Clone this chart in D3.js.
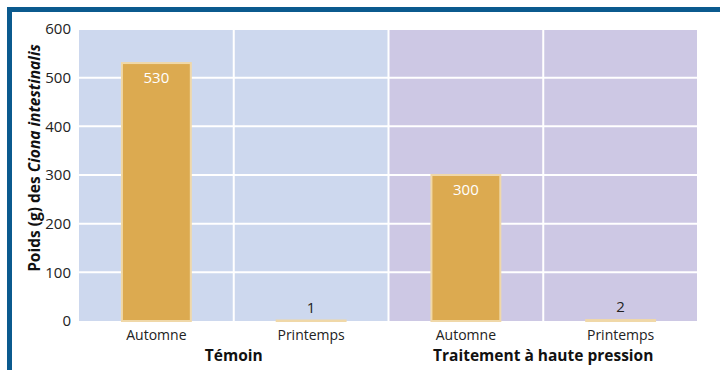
<!DOCTYPE html>
<html>
<head>
<meta charset="utf-8">
<script src="https://cdn.jsdelivr.net/npm/d3@7"></script>
<style>
    body { margin: 0; background: #fff; }
    svg { display: block; font-family: "Open Sans", "Noto Sans", sans-serif; }
</style>
</head>
<body>
<svg id="chart" width="720" height="370"></svg>
<script>
var groups = ["Témoin", "Traitement à haute pression"];
var seasons = ["Automne", "Printemps"];
var temoin = [530, 1];
var haute = [300, 2];
var yTicks = [0, 100, 200, 300, 400, 500, 600];
var groupColors = ["#cdd8ee", "#cdc8e4"];

barChart();

function barChart() {

    var svg = d3.select("#chart"),
        margin = {top: 29, right: 22, bottom: 49, left: 79},
        width = +svg.attr("width") - margin.left - margin.right,
        height = +svg.attr("height") - margin.top - margin.bottom;

    var data = [];
    groups.forEach(function (gName, i) {
        var vals = i === 0 ? temoin : haute;
        seasons.forEach(function (s, j) {
            data.push({group: gName, season: s, value: vals[j]});
        });
    });

    var x0 = d3.scaleBand().domain(groups).range([0, width]).padding(0);
    var x1 = d3.scaleBand().domain(seasons).range([0, x0.bandwidth()])
        .paddingInner(0.555).paddingOuter(0.2775);
    var y = d3.scaleLinear().domain([0, 600]).range([height, 0]);

    // frame
    svg.append("rect").attr("x", 7).attr("y", 7).attr("width", 713).attr("height", 5).attr("fill", "#0b5a8e");
    svg.append("rect").attr("x", 7).attr("y", 7).attr("width", 5).attr("height", 363).attr("fill", "#0b5a8e");

    var g = svg.append("g")
        .attr("transform", "translate(" + margin.left + "," + margin.top + ")");

    // group backgrounds
    g.selectAll(".bg")
        .data(groups)
        .enter().append("rect")
        .attr("class", "bg")
        .attr("x", function (d) { return x0(d); })
        .attr("y", 0)
        .attr("width", x0.bandwidth())
        .attr("height", height)
        .attr("fill", function (d, i) { return groupColors[i]; });

    // horizontal grid
    g.selectAll(".hgrid")
        .data(yTicks.filter(function (t) { return t > 0; }))
        .enter().append("line")
        .attr("x1", 0).attr("x2", width)
        .attr("y1", function (d) { return y(d); })
        .attr("y2", function (d) { return y(d); })
        .attr("stroke", "#fff").attr("stroke-width", 2);

    // vertical grid between bands
    var cuts = [];
    groups.forEach(function (gName, i) {
        if (i > 0) cuts.push(x0(gName));
        cuts.push(x0(gName) + x0.bandwidth() / 2);
    });
    cuts.push(width);
    g.selectAll(".vgrid")
        .data(cuts)
        .enter().append("line")
        .attr("x1", function (d) { return d; })
        .attr("x2", function (d) { return d; })
        .attr("y1", 0).attr("y2", height)
        .attr("stroke", "#fff").attr("stroke-width", 2);

    // y tick labels
    g.append("g")
        .attr("class", "axis axis--y")
        .attr("transform", "translate(-8,0)")
        .call(d3.axisLeft(y).tickValues(yTicks).tickSize(0).tickPadding(0))
        .call(function (a) { a.select(".domain").remove(); })
        .selectAll("text")
        .attr("font-size", 15)
        .attr("font-family", "Open Sans, sans-serif")
        .attr("fill", "#222");

    // bars
    g.selectAll(".bar")
        .data(data)
        .enter().append("rect")
        .attr("class", "bar")
        .attr("x", function (d) { return x0(d.group) + x1(d.season); })
        .attr("y", function (d) { return y(d.value); })
        .attr("width", x1.bandwidth())
        .attr("height", function (d) { return height - y(d.value); })
        .attr("fill", "#dcaa50")
        .attr("stroke", "#f0d8a8")
        .attr("stroke-width", 2);

    // value labels
    g.selectAll(".val")
        .data(data)
        .enter().append("text")
        .attr("x", function (d) { return x0(d.group) + x1(d.season) + x1.bandwidth() / 2; })
        .attr("y", function (d) { return d.value > 50 ? y(d.value) + 20 : y(d.value) - 8; })
        .attr("text-anchor", "middle")
        .attr("font-size", 15)
        .attr("fill", function (d) { return d.value > 50 ? "#fff" : "#222"; })
        .text(function (d) { return d.value; });

    // category labels
    g.selectAll(".cat")
        .data(data)
        .enter().append("text")
        .attr("x", function (d) { return x0(d.group) + x1(d.season) + x1.bandwidth() / 2; })
        .attr("y", height + 19)
        .attr("text-anchor", "middle")
        .attr("font-size", 14)
        .attr("fill", "#222")
        .text(function (d) { return d.season; });

    // group labels
    g.selectAll(".grp")
        .data(groups)
        .enter().append("text")
        .attr("x", function (d) { return x0(d) + x0.bandwidth() / 2; })
        .attr("y", height + 40)
        .attr("text-anchor", "middle")
        .attr("font-size", 15.5)
        .attr("font-weight", "bold")
        .attr("fill", "#111")
        .text(function (d) { return d; });

    // y axis title
    var title = svg.append("text")
        .attr("transform", "translate(40," + (margin.top + 129) + ") rotate(-90)")
        .attr("text-anchor", "middle")
        .attr("font-size", 15.5)
        .attr("font-weight", "bold")
        .attr("fill", "#111");
    title.append("tspan").text("Poids (g) des ");
    title.append("tspan").attr("font-style", "italic").text("Ciona intestinalis");
}
</script>
</body>
</html>
